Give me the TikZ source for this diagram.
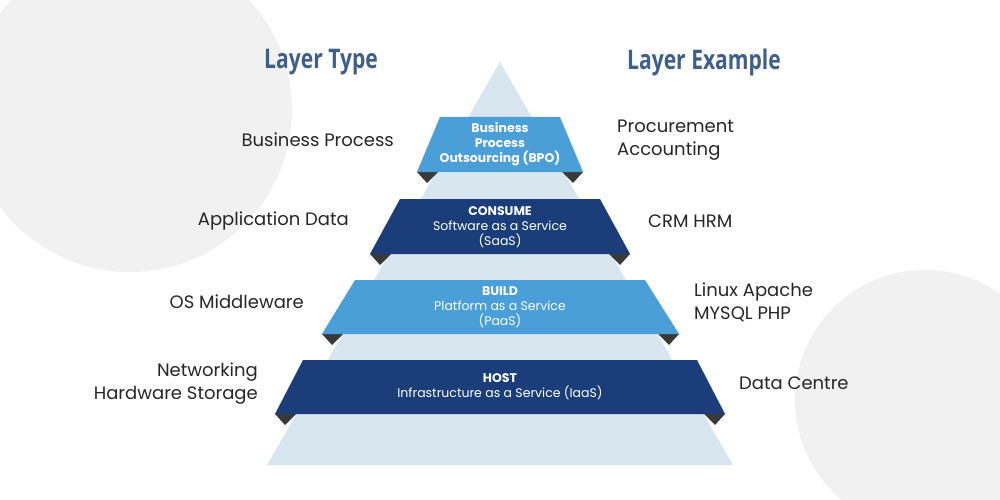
\documentclass[tikz,border=0pt]{standalone}
\usepackage{fontspec}
\setmainfont{Poppins}
\newfontfamily\headfont[FakeStretch=0.78]{Open Sans}
\begin{document}
\begin{tikzpicture}[x=1pt,y=-1pt,
  lab/.style={font=\fontsize{18}{23}\selectfont, text=black!85, align=center, inner sep=0},
  head/.style={font=\headfont\bfseries\fontsize{27}{30}\selectfont, text=hd, inner sep=0},
  band/.style={font=\fontsize{12.5}{15}\selectfont, text=white, align=center, inner sep=0},
  fold/.style={fill=fd}]
\definecolor{bgc}{HTML}{F1F1F1}
\definecolor{pyr}{HTML}{D8E6F0}
\definecolor{lb}{HTML}{4A9FD9}
\definecolor{db}{HTML}{1B3E7B}
\definecolor{fd}{HTML}{3A3A3A}
\definecolor{hd}{HTML}{3E5F89}
\useasboundingbox (0,0) rectangle (1000,500);
\fill[white] (0,0) rectangle (1000,500);
\begin{scope}
\clip (0,0) rectangle (1000,500);
\fill[bgc] (130,110) circle (162);
\fill[bgc] (925,400) circle (130);
\end{scope}
\fill[pyr] (500,62) -- (733,465) -- (267,465) -- cycle;
% folds
\foreach \l/\r/\y in {417/583/172, 370/630/254, 322/679/334, 275/725/414}{
  \fill[fd] (\l,\y) -- (\l+21,\y) -- (\l+10,\y+11) -- cycle;
  \fill[fd] (\r,\y) -- (\r-21,\y) -- (\r-10,\y+11) -- cycle;
}
\fill[lb] (440,117) -- (560,117) -- (583,172) -- (417,172) -- cycle;
\fill[db] (400,199) -- (600,199) -- (630,254) -- (370,254) -- cycle;
\fill[lb] (355,280) -- (645,280) -- (679,334) -- (322,334) -- cycle;
\fill[db] (303,360) -- (697,360) -- (725,414) -- (275,414) -- cycle;
\node[band,font=\bfseries\fontsize{12.5}{15}\selectfont] (b1) at (500,144) {Business\\Process\\Outsourcing (BPO)};
\node[band] (b2) at (500,227) {\textbf{CONSUME}\\Software as a Service\\(SaaS)};
\node[band] (b3) at (500,307) {\textbf{BUILD}\\Platform as a Service\\(PaaS)};
\node[band] (b4) at (500,387) {\textbf{HOST}\\Infrastructure as a Service (IaaS)};
\node[head] (h1) at (321,62) {Layer Type};
\node[head] (h2) at (704,62) {Layer Example};
\node[lab,anchor=east] (l1) at (394,140) {Business Process};
\node[lab,anchor=east] (l2) at (349,221) {Application Data};
\node[lab,anchor=east] (l3) at (304,302) {OS Middleware};
\node[lab,anchor=east,align=right] (l4) at (258,384) {Networking\\Hardware Storage};
\node[lab,anchor=west,align=left] (r1) at (617,140) {Procurement\\Accounting};
\node[lab,anchor=west] (r2) at (648,221) {CRM HRM};
\node[lab,anchor=west,align=left] (r3) at (694,302) {Linux Apache\\MYSQL PHP};
\node[lab,anchor=west] (r4) at (739,383) {Data Centre};
\end{tikzpicture}
\end{document}
